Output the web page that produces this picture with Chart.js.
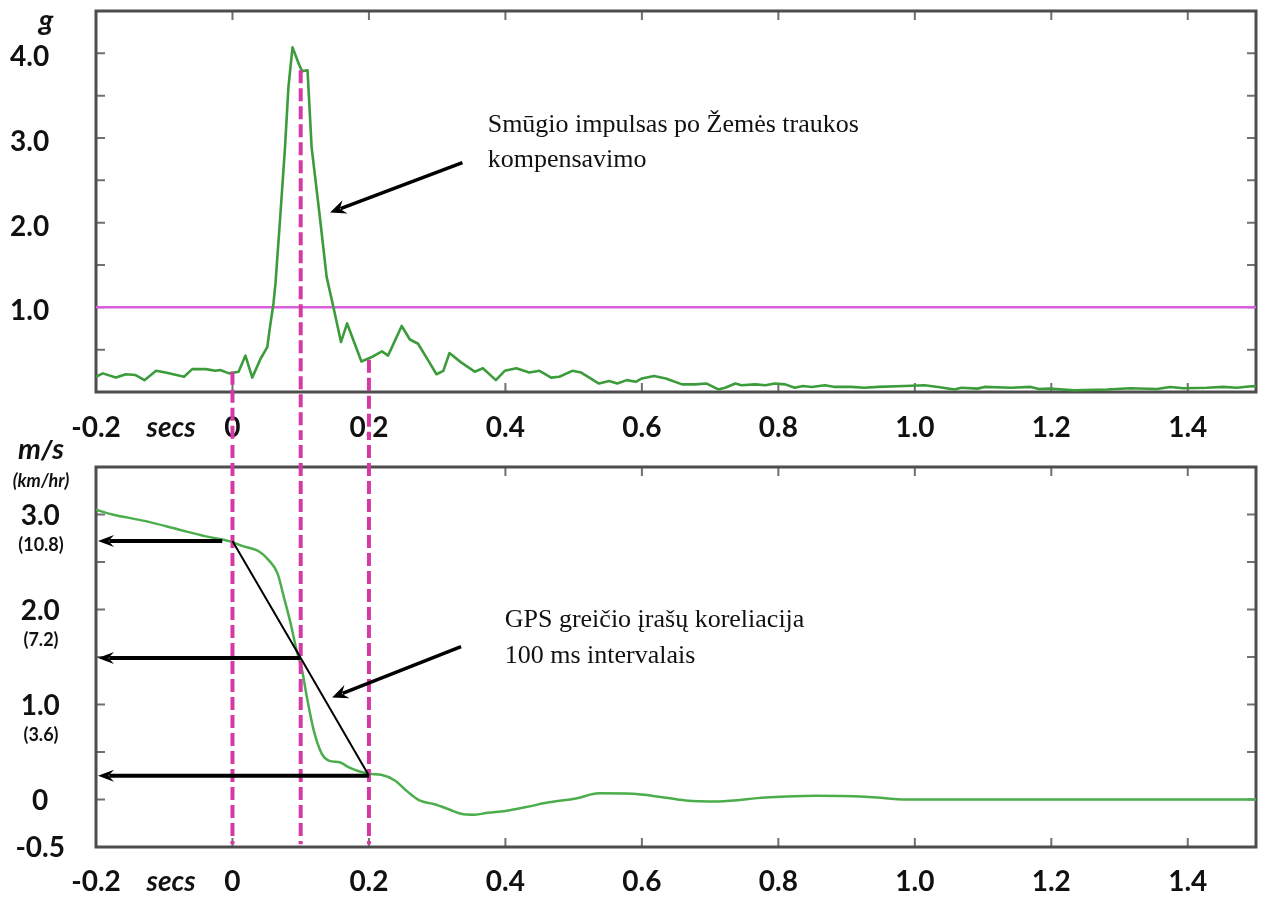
<!DOCTYPE html>
<html>
<head>
<meta charset="utf-8">
<title>Smūgio impulsas ir GPS greitis</title>
<script src="https://cdn.jsdelivr.net/npm/chart.js@4.4.1/dist/chart.umd.min.js"></script>
<style>
  html, body { margin: 0; padding: 0; background: #fff; }
  #wrap { position: relative; width: 1265px; height: 899px; }
  canvas { position: absolute; left: 0; }
  #accel { top: 0; }
  #speed { top: 440px; }
</style>
</head>
<body>
<div id="wrap">
  <canvas id="accel" width="1265" height="440"></canvas>
  <canvas id="speed" width="1265" height="459"></canvas>
</div>
<script>
// time axis (secs), shared by both panels
const xTicks = [-0.2, 0, 0.2, 0.4, 0.6, 0.8, 1.0, 1.2, 1.4];
const xMinor = [0, 0.2, 0.4, 0.6, 0.8, 1.0, 1.2, 1.4];
const secsAt = -0.09;

// upper panel: acceleration (g)
const accelTime = [-0.200, -0.190, -0.171, -0.156, -0.142, -0.129, -0.112, -0.098, -0.071, -0.059,
  -0.039, -0.025, -0.018, -0.005, 0.009, 0.019, 0.029, 0.041, 0.051, 0.055,
  0.060, 0.063, 0.070, 0.077, 0.082, 0.088, 0.098, 0.102, 0.110, 0.116,
  0.128, 0.138, 0.148, 0.159, 0.168, 0.189, 0.206, 0.219, 0.228, 0.248,
  0.260, 0.272, 0.287, 0.299, 0.309, 0.318, 0.335, 0.355, 0.367, 0.386,
  0.399, 0.416, 0.435, 0.450, 0.467, 0.479, 0.498, 0.511, 0.523, 0.537,
  0.552, 0.564, 0.578, 0.591, 0.600, 0.618, 0.635, 0.659, 0.678, 0.695,
  0.712, 0.722, 0.737, 0.746, 0.766, 0.781, 0.795, 0.810, 0.824, 0.836,
  0.849, 0.868, 0.883, 0.907, 0.926, 0.946, 0.985, 1.014, 1.034, 1.058,
  1.068, 1.092, 1.102, 1.141, 1.170, 1.182, 1.197, 1.233, 1.282, 1.316,
  1.355, 1.374, 1.394, 1.428, 1.452, 1.472, 1.489, 1.500];
const accelG = [0.18, 0.22, 0.17, 0.21, 0.20, 0.14, 0.25, 0.23, 0.18, 0.27,
  0.27, 0.25, 0.26, 0.22, 0.24, 0.43, 0.17, 0.39, 0.53, 0.77,
  1.04, 1.28, 2.07, 2.89, 3.60, 4.07, 3.86, 3.79, 3.80, 2.89,
  2.07, 1.36, 1.00, 0.59, 0.81, 0.36, 0.42, 0.48, 0.43, 0.78,
  0.62, 0.57, 0.37, 0.21, 0.25, 0.46, 0.35, 0.24, 0.28, 0.14,
  0.25, 0.28, 0.23, 0.25, 0.17, 0.18, 0.25, 0.23, 0.17, 0.10,
  0.13, 0.10, 0.14, 0.12, 0.16, 0.19, 0.16, 0.09, 0.09, 0.10,
  0.03, 0.05, 0.10, 0.08, 0.09, 0.08, 0.10, 0.09, 0.05, 0.07,
  0.06, 0.08, 0.06, 0.06, 0.05, 0.06, 0.07, 0.08, 0.06, 0.03,
  0.05, 0.04, 0.06, 0.05, 0.06, 0.035, 0.04, 0.02, 0.03, 0.045,
  0.035, 0.06, 0.045, 0.05, 0.06, 0.05, 0.065, 0.07];
const gTicks = [1, 2, 3, 4];
const gMinor = [0.5, 1, 1.5, 2, 2.5, 3, 3.5, 4];
const gravityG = 1.0;

// lower panel: speed m/s (km/hr)
const speedTime = [-0.200, -0.176, -0.127, -0.078, -0.039, -0.005, 0.014, 0.039, 0.053, 0.066,
  0.075, 0.085, 0.094, 0.102, 0.109, 0.119, 0.131, 0.141, 0.158, 0.170,
  0.184, 0.201, 0.218, 0.238, 0.257, 0.274, 0.296, 0.316, 0.335, 0.355,
  0.374, 0.400, 0.430, 0.464, 0.503, 0.537, 0.586, 0.625, 0.664, 0.712,
  0.781, 0.854, 0.927, 0.990, 1.100, 1.200, 1.300, 1.400, 1.500];
const speedMs = [3.05, 3.00, 2.93, 2.84, 2.77, 2.72, 2.67, 2.61, 2.52, 2.38,
  2.14, 1.86, 1.57, 1.36, 1.08, 0.73, 0.48, 0.41, 0.39, 0.34,
  0.30, 0.27, 0.26, 0.20, 0.08, -0.01, -0.05, -0.10, -0.15, -0.16,
  -0.14, -0.12, -0.08, -0.03, 0.01, 0.065, 0.06, 0.03, -0.01, -0.02,
  0.02, 0.04, 0.03, 0.0, 0.0, 0.0, 0.0, 0.0, 0.0];
const msTicks = [-0.5, 0, 1, 2, 3];
const msMinor = [-0.5, 0, 0.5, 1, 1.5, 2, 2.5, 3];
const kmhTicks = [3, 2, 1];
const kmhLabels = ['(10.8)', '(7.2)', '(3.6)'];

// GPS samples every 100 ms
const gpsTime = [0, 0.1, 0.2];
const gpsSpeed = [2.72, 1.49, 0.25];
const gpsArrowFrom = [-0.015, 0.1, 0.2];
const markerTopG = [0.24, 3.8, 0.38];

const GREEN_TOP = '#3c9c3c';
const GREEN_BOT = '#4cad4c';
const PINK = '#d53aa4';
const VIOLET = '#dc5ee0';

Chart.defaults.font.family = 'Lato';
Chart.defaults.color = '#111';

const pts = (xs, ys) => xs.map((x, i) => ({ x, y: ys[i] }));
const fmt = v => (v === 0 ? '0' : v.toFixed(1));

function arrow(ctx, x1, y1, x2, y2, width, len, half) {
  const a = Math.atan2(y2 - y1, x2 - x1);
  const c = Math.cos(a), s = Math.sin(a);
  ctx.lineWidth = width;
  ctx.beginPath();
  ctx.moveTo(x1, y1);
  ctx.lineTo(x2 - len * 0.7 * c, y2 - len * 0.7 * s);
  ctx.stroke();
  ctx.beginPath();
  ctx.moveTo(x2, y2);
  ctx.lineTo(x2 - len * c + half * s, y2 - len * s - half * c);
  ctx.lineTo(x2 - len * 0.65 * c, y2 - len * 0.65 * s);
  ctx.lineTo(x2 - len * c - half * s, y2 - len * s + half * c);
  ctx.closePath();
  ctx.fill();
}

const panelDecor = {
  id: 'panelDecor',
  beforeDatasetsDraw(chart, args, opts) {
    const { ctx, chartArea: a, scales: { x, y } } = chart;
    ctx.save();
    ctx.strokeStyle = '#707070';
    ctx.lineWidth = 2;
    ctx.beginPath();
    opts.yMinor.forEach(v => {
      const py = y.getPixelForValue(v);
      ctx.moveTo(a.left, py); ctx.lineTo(a.left + 9, py);
      ctx.moveTo(a.right - 9, py); ctx.lineTo(a.right, py);
    });
    opts.xMinor.forEach(v => {
      const px = x.getPixelForValue(v);
      ctx.moveTo(px, a.top); ctx.lineTo(px, a.top + 9);
      ctx.moveTo(px, a.bottom - 9); ctx.lineTo(px, a.bottom);
    });
    ctx.stroke();
    ctx.strokeStyle = '#4d4d4d';
    ctx.lineWidth = 3;
    ctx.strokeRect(a.left, a.top, a.right - a.left, a.bottom - a.top);
    ctx.restore();
  },
  afterDatasetsDraw(chart, args, opts) {
    const { ctx, scales: { x, y } } = chart;
    ctx.save();
    ctx.strokeStyle = '#000';
    ctx.fillStyle = '#000';
    ctx.lineCap = 'butt';
    (opts.arrows || []).forEach(ar => {
      arrow(ctx, x.getPixelForValue(ar.from[0]), y.getPixelForValue(ar.from[1]),
        x.getPixelForValue(ar.to[0]) + (ar.tipDx || 0), y.getPixelForValue(ar.to[1]),
        ar.width, ar.len, ar.half);
    });
    ctx.fillStyle = '#111';
    ctx.textAlign = 'left';
    ctx.textBaseline = 'alphabetic';
    ctx.font = '26px "Liberation Serif"';
    (opts.notes || []).forEach(n => {
      const px = x.getPixelForValue(n.x);
      const py = y.getPixelForValue(n.y);
      n.lines.forEach((t, i) => ctx.fillText(t, px, py + i * n.lead));
    });
    ctx.textAlign = 'center';
    (opts.titles || []).forEach(t => {
      ctx.font = t.font;
      ctx.textBaseline = t.baseline || 'alphabetic';
      ctx.fillText(t.text, t.cx, y.getPixelForValue(t.y) + (t.dy || 0));
    });
    ctx.restore();
  }
};

function xScale(pad) {
  return {
    type: 'linear', min: -0.2, max: 1.5, bounds: 'data',
    grid: { display: false, drawTicks: false },
    border: { display: false },
    afterBuildTicks: s => { s.ticks = [...xTicks, secsAt].sort((a, b) => a - b).map(v => ({ value: v })); },
    afterFit: s => { s.height = pad.h; s.paddingLeft = 0; s.paddingRight = 0; },
    ticks: {
      autoSkip: false, maxRotation: 0, padding: pad.p,
      callback: v => (v === secsAt ? 'secs' : fmt(v)),
      color: '#111',
      font: c => (c.tick && c.tick.value === secsAt
        ? { family: 'Lato', size: 28, weight: 'bold', style: 'italic' }
        : { family: 'Lato', size: 28, weight: 'bold' })
    }
  };
}

function yScale(min, max, ticks, align, padding, shift) {
  return {
    type: 'linear', min, max, bounds: 'data',
    grid: { display: false, drawTicks: false },
    border: { display: false },
    afterBuildTicks: s => { s.ticks = ticks.map(v => ({ value: v })); },
    afterFit: s => { s.width = 86; s.paddingTop = 0; s.paddingBottom = 0; },
    ticks: {
      crossAlign: align, padding, color: '#111', labelOffset: shift,
      font: { family: 'Lato', size: 28, weight: 'bold' },
      callback: v => fmt(v)
    }
  };
}

const baseOpts = {
  responsive: false,
  animation: false,
  events: [],
  elements: { point: { radius: 0 } }
};

// upper panel
const accelSets = [
  { data: pts(accelTime, accelG), borderColor: GREEN_TOP, borderWidth: 2.6, tension: 0, order: 1, borderJoinStyle: 'round' },
  { data: [{ x: -0.2, y: gravityG }, { x: 1.5, y: gravityG }], borderColor: VIOLET, borderWidth: 2.5, order: 2 }
];
gpsTime.forEach((t, i) => {
  accelSets.push({ data: [{ x: t, y: markerTopG[i] }, { x: t, y: -1.2 }], borderColor: PINK, borderWidth: 4,
    borderDash: [13, 5], clip: false, order: 0 });
});

new Chart(document.getElementById('accel'), {
  type: 'line',
  data: { datasets: accelSets },
  options: {
    ...baseOpts,
    layout: { padding: { left: 10, right: 9, top: 11, bottom: 0 } },
    scales: {
      x: xScale({ h: 48, p: 19 }),
      y: yScale(0, 4.5, gTicks, 'far', 0, 4)
    },
    plugins: {
      legend: { display: false },
      tooltip: { enabled: false },
      panelDecor: {
        yMinor: gMinor, xMinor,
        arrows: [{ from: [0.337, 2.71], to: [0.143, 2.12], width: 3.5, len: 16, half: 7 }],
        notes: [{ x: 0.374, y: 3.065, lead: 35, lines: ['Smūgio impulsas po Žemės traukos', 'kompensavimo'] }],
        titles: [{ text: 'g', cx: 46, y: 4.27, font: 'italic bold 29px Lato' }]
      }
    }
  },
  plugins: [panelDecor]
});

// lower panel
const speedSets = [
  { data: pts(gpsTime, gpsSpeed), borderColor: '#000', borderWidth: 2, tension: 0, order: 0 },
  { data: pts(speedTime, speedMs), borderColor: GREEN_BOT, borderWidth: 2.5, cubicInterpolationMode: 'monotone', order: 2 }
];
gpsTime.forEach(t => {
  speedSets.push({ data: [{ x: t, y: 4.3 }, { x: t, y: -0.47 }], borderColor: PINK, borderWidth: 4,
    borderDash: [13, 5], clip: false, order: 1 });
});

const gpsArrows = gpsTime.map((t, i) => ({ from: [gpsArrowFrom[i], gpsSpeed[i]], to: [-0.2, gpsSpeed[i]], tipDx: 2, width: 4, len: 16, half: 6 }));

new Chart(document.getElementById('speed'), {
  type: 'line',
  data: { datasets: speedSets },
  options: {
    ...baseOpts,
    layout: { padding: { left: 10, right: 9, top: 27, bottom: 0 } },
    scales: {
      x: xScale({ h: 52, p: 18 }),
      y: yScale(-0.5, 3.5, msTicks, 'center', 31, 1)
    },
    plugins: {
      legend: { display: false },
      tooltip: { enabled: false },
      panelDecor: {
        yMinor: msMinor, xMinor,
        arrows: [...gpsArrows, { from: [0.335, 1.608], to: [0.146, 1.074], width: 3.5, len: 16, half: 7 }],
        notes: [{ x: 0.399, y: 1.816, lead: 36, lines: ['GPS greičio įrašų koreliacija', '100 ms intervalais'] }],
        titles: [
          { text: 'm/s', cx: 41, y: 3.58, font: 'italic bold 29px Lato' },
          { text: '(km/hr)', cx: 41, y: 3.29, font: 'italic bold 18px Lato' },
          ...kmhTicks.map((v, i) => ({ text: kmhLabels[i], cx: 41, y: v, dy: 31, baseline: 'middle', font: 'bold 18px Lato' }))
        ]
      }
    }
  },
  plugins: [panelDecor]
});
</script>
</body>
</html>
